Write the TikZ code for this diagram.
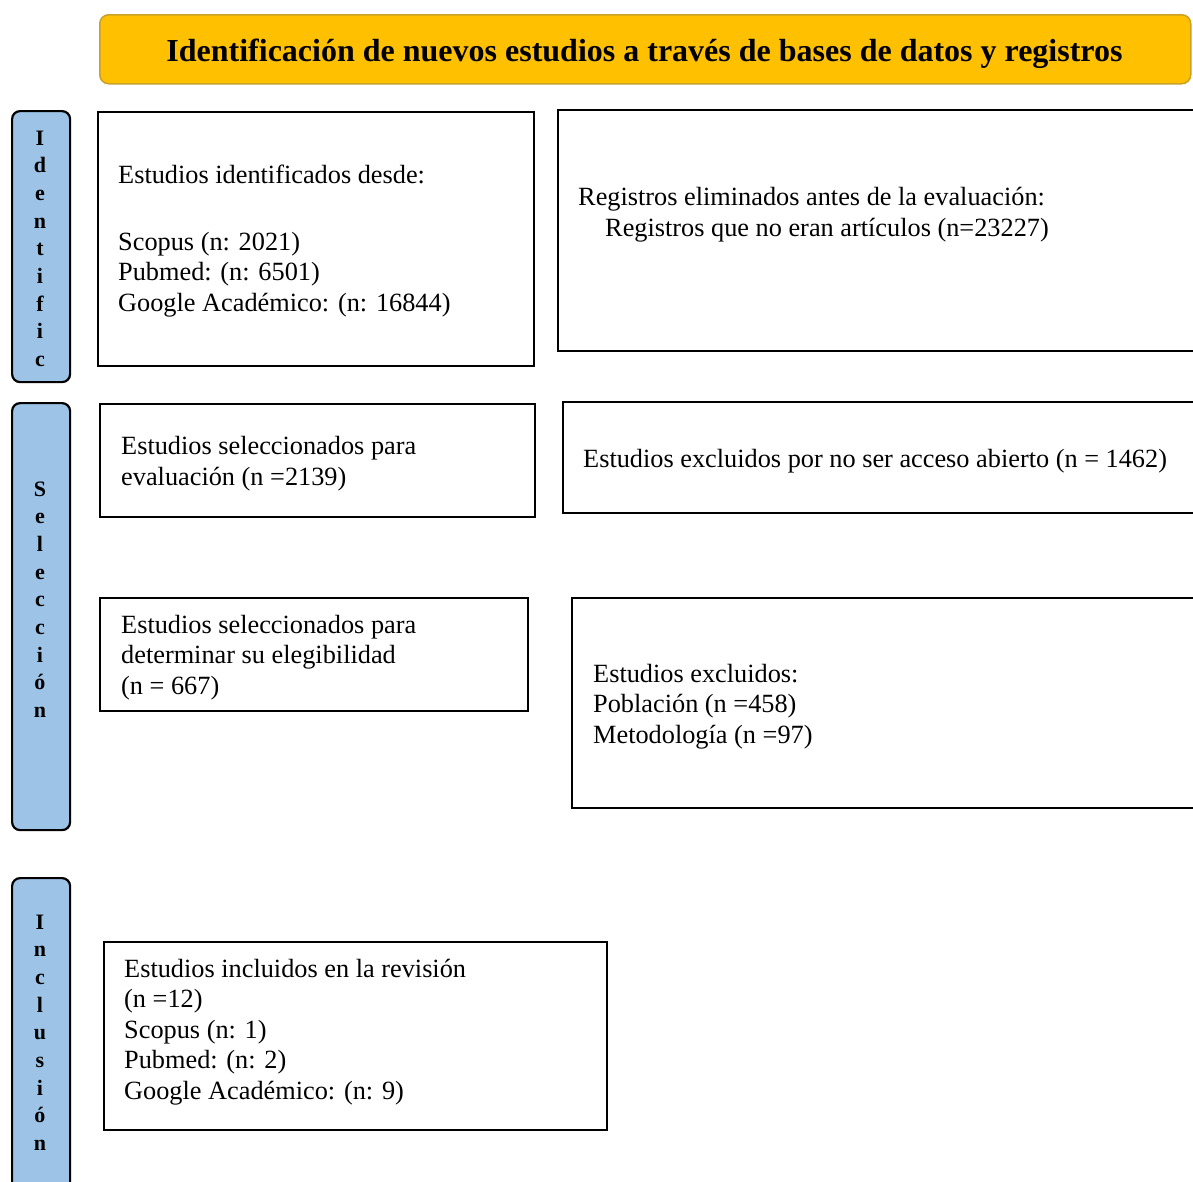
\documentclass[tikz,border=0pt]{standalone}
\usepackage{fontspec}
\setmainfont{Liberation Serif}
\definecolor{titlefill}{HTML}{FFC000}
\definecolor{titledraw}{HTML}{C9A227}
\definecolor{sideblue}{HTML}{9DC3E6}
\begin{document}
\begin{tikzpicture}[x=1pt,y=-1pt,
  box/.style={draw=black,line width=2pt,rectangle,inner sep=0pt,anchor=north west},
  sidebox/.style={draw=black,line width=2.2pt,fill=sideblue,rectangle,rounded corners=8pt,inner sep=0pt,anchor=north west,minimum width=58pt},
  txt/.style={anchor=base west,align=left,inner sep=0pt,font=\fontsize{26.3}{30.5}\selectfont},
  sidetxt/.style={anchor=base,align=center,inner sep=0pt,font=\fontsize{22}{27.7}\selectfont\bfseries}]
\clip (0,0) rectangle (1193,1181);
\fill[white] (0,0) rectangle (1193,1181);
% title
\node[draw=titledraw,line width=1.5pt,fill=titlefill,rounded corners=9pt,rectangle,inner sep=0pt,anchor=north west,minimum width=1091pt,minimum height=69pt] (title) at (99,14) {};
\node[inner sep=0pt,anchor=base,font=\fontsize{32}{36}\selectfont\bfseries] (titletxt) at (644.5,61) {Identificación de nuevos estudios a través de bases de datos y registros};
% side boxes
\node[sidebox,minimum height=271pt] (s1) at (11,110) {};
\node[sidebox,minimum height=427pt] (s2) at (11,402) {};
\node[sidebox,minimum height=340pt] (s3) at (11,877) {};
% multi-line nodes: base = baseline of the last line
\node[sidetxt] (s1t) at (40,366.6) {I\\d\\e\\n\\t\\i\\f\\i\\c};
\node[sidetxt] (s2t) at (40,717.6) {S\\e\\l\\e\\c\\c\\i\\ó\\n};
\node[sidetxt] (s3t) at (40,1150.6) {I\\n\\c\\l\\u\\s\\i\\ó\\n};
% boxes
\node[box,minimum width=436pt,minimum height=254pt] (A) at (97,111) {};
\node[box,minimum width=660pt,minimum height=241pt] (B) at (557,109) {};
\node[box,minimum width=435pt,minimum height=113pt] (C) at (99,403) {};
\node[box,minimum width=650pt,minimum height=111pt] (D) at (562,401) {};
\node[box,minimum width=428pt,minimum height=113pt] (E) at (99,597) {};
\node[box,minimum width=640pt,minimum height=210pt] (F) at (571,597) {};
\node[box,minimum width=503pt,minimum height=188pt] (G) at (103,941) {};
% texts
\node[txt] (At) at (118,311) {Estudios identificados desde:\\[36pt]Scopus (n: 2021)\\Pubmed: (n: 6501)\\Google Académico: (n: 16844)};
\node[txt] (Bt) at (578,236) {Registros eliminados antes de la evaluación:\\\hspace*{27pt}Registros que no eran artículos (n=23227)};
\node[txt] (Ct) at (121,485) {Estudios seleccionados para\\evaluación (n =2139)};
\node[txt] (Dt) at (583,467) {Estudios excluidos por no ser acceso abierto (n = 1462)};
\node[txt] (Et) at (121,694) {Estudios seleccionados para\\determinar su elegibilidad\\(n = 667)};
\node[txt] (Ft) at (593,743) {Estudios excluidos:\\Población (n =458)\\Metodología (n =97)};
\node[txt] (Gt) at (124,1099) {Estudios incluidos en la revisión\\(n =12)\\Scopus (n: 1)\\Pubmed: (n: 2)\\Google Académico: (n: 9)};
\end{tikzpicture}
\end{document}
